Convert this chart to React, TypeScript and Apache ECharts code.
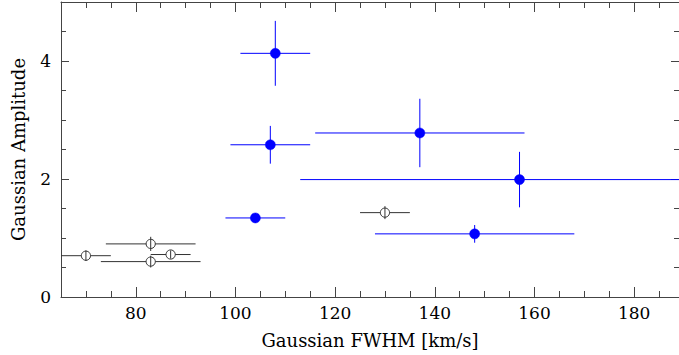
import React, { useEffect, useRef } from "react";
import * as echarts from "echarts";

// Filled (blue) measurements
const filledFWHM = [108, 107, 137, 157, 104, 148];
const filledAmp = [4.13, 2.58, 2.78, 1.99, 1.34, 1.07];
const filledFWHMErr = [7, 8, 21, 44, 6, 20];
const filledAmpErr = [0.55, 0.32, 0.58, 0.47, 0.08, 0.15];

// Open (black) measurements
const openFWHM = [70, 83, 87, 83, 130];
const openAmp = [0.7, 0.9, 0.72, 0.6, 1.43];
const openFWHMErr = [5, 9, 4, 10, 5];
const openAmpErr = [0.09, 0.12, 0.07, 0.1, 0.11];

// Ticks
const xMajor = [80, 100, 120, 140, 160, 180];
const xMinor = [70, 75, 85, 90, 95, 105, 110, 115, 125, 130, 135, 145, 150, 155, 165, 170, 175, 185];
const yMajor = [0, 2, 4];
const yMinor = [0.5, 1, 1.5, 2.5, 3, 3.5, 4.5];

const X_MIN = 65;
const X_MAX = 189;
const Y_MIN = 0;
const Y_MAX = 5;

const FONT = "DejaVu Serif";
const AXIS_COLOR = "#444";

function makeRender(color: string, filled: boolean) {
  return (params: any, api: any) => {
    const x = api.value(0);
    const y = api.value(1);
    const ex = api.value(2);
    const ey = api.value(3);
    const c = api.coord([x, y]);
    const l = api.coord([x - ex, y]);
    const r = api.coord([x + ex, y]);
    const t = api.coord([x, y + ey]);
    const b = api.coord([x, y - ey]);
    const hLine = {
      type: "line",
      shape: { x1: l[0], y1: c[1], x2: r[0], y2: c[1] },
      style: { stroke: color, lineWidth: 1 },
    };
    const vLine = {
      type: "line",
      shape: { x1: c[0], y1: t[1], x2: c[0], y2: b[1] },
      style: { stroke: color, lineWidth: 1 },
    };
    const circle = {
      type: "circle",
      shape: { cx: c[0], cy: c[1], r: filled ? 5 : 4.6 },
      style: filled
        ? { fill: color, stroke: color, lineWidth: 0.5 }
        : { fill: "#fff", stroke: color, lineWidth: 1 },
    };
    return {
      type: "group",
      children: filled ? [hLine, vLine, circle] : [hLine, circle, vLine],
    };
  };
}

function xAxisDef(position: "bottom" | "top", values: number[], len: number, labels: boolean, line: boolean) {
  return {
    type: "value",
    position,
    min: X_MIN,
    max: X_MAX,
    splitLine: { show: false },
    axisLine: { show: line, onZero: false, lineStyle: { color: AXIS_COLOR, width: 1 } },
    axisTick: {
      show: true,
      inside: true,
      length: len,
      customValues: values,
      lineStyle: { color: AXIS_COLOR, width: 1 },
    },
    axisLabel: labels
      ? {
          show: true,
          customValues: values,
          color: "#000",
          fontFamily: FONT,
          fontSize: 17,
          margin: 7,
        }
      : { show: false },
    ...(labels
      ? {
          name: "Gaussian FWHM [km/s]",
          nameLocation: "middle",
          nameGap: 34,
          nameTextStyle: { color: "#000", fontFamily: FONT, fontSize: 18 },
        }
      : {}),
  };
}

function yAxisDef(position: "left" | "right", values: number[], len: number, labels: boolean, line: boolean) {
  return {
    type: "value",
    position,
    min: Y_MIN,
    max: Y_MAX,
    splitLine: { show: false },
    axisLine: { show: line, onZero: false, lineStyle: { color: AXIS_COLOR, width: 1 } },
    axisTick: {
      show: true,
      inside: true,
      length: len,
      customValues: values,
      lineStyle: { color: AXIS_COLOR, width: 1 },
    },
    axisLabel: labels
      ? {
          show: true,
          customValues: values,
          color: "#000",
          fontFamily: FONT,
          fontSize: 17,
          margin: 10,
        }
      : { show: false },
    ...(labels
      ? {
          name: "Gaussian Amplitude",
          nameLocation: "middle",
          nameGap: 34,
          nameTextStyle: { color: "#000", fontFamily: FONT, fontSize: 18 },
        }
      : {}),
  };
}

export default function App() {
  const ref = useRef<HTMLDivElement>(null);

  useEffect(() => {
    if (!ref.current) return;
    const chart = echarts.init(ref.current, undefined, { renderer: "svg" });

    const filledData = filledFWHM.map((x, i) => [x, filledAmp[i], filledFWHMErr[i], filledAmpErr[i]]);
    const openData = openFWHM.map((x, i) => [x, openAmp[i], openFWHMErr[i], openAmpErr[i]]);

    chart.setOption({
      animation: false,
      backgroundColor: "#fff",
      grid: {
        left: 61,
        right: 0,
        top: 2,
        bottom: 58,
        containLabel: false,
        outerBoundsMode: "none",
      },
      xAxis: [
        xAxisDef("bottom", xMajor, 10, true, true),
        xAxisDef("bottom", xMinor, 6, false, false),
        xAxisDef("top", xMajor, 10, false, true),
        xAxisDef("top", xMinor, 6, false, false),
      ],
      yAxis: [
        yAxisDef("left", yMajor, 8, true, true),
        yAxisDef("left", yMinor, 5, false, false),
        yAxisDef("right", yMajor, 8, false, false),
        yAxisDef("right", yMinor, 5, false, false),
      ],
      series: [
        {
          type: "custom",
          name: "open",
          xAxisIndex: 0,
          yAxisIndex: 0,
          clip: true,
          encode: { x: 0, y: 1 },
          data: openData,
          renderItem: makeRender("#333", false),
        },
        {
          type: "custom",
          name: "filled",
          xAxisIndex: 0,
          yAxisIndex: 0,
          clip: true,
          encode: { x: 0, y: 1 },
          data: filledData,
          renderItem: makeRender("#0000ff", true),
        },
      ],
    });

    return () => chart.dispose();
  }, []);

  return (
    <div
      ref={ref}
      style={{ position: "fixed", left: 0, top: 0, width: 679, height: 355 }}
    />
  );
}
